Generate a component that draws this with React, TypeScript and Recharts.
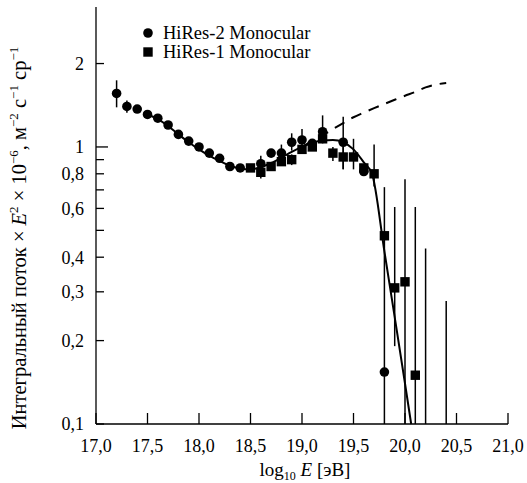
import React from "react";
import {
  ComposedChart,
  Line,
  Scatter,
  ErrorBar,
  XAxis,
  YAxis,
} from "recharts";

// HiRes-2 Monocular (circles)
const hr2X = [17.2, 17.3, 17.4, 17.5, 17.6, 17.7, 17.8, 17.9, 18.0, 18.1, 18.2, 18.3, 18.4, 18.6, 18.7, 18.8, 18.9, 19.0, 19.1, 19.2, 19.4, 19.6, 19.8];
const hr2Y = [1.56, 1.4, 1.37, 1.31, 1.27, 1.2, 1.11, 1.05, 1.0, 0.95, 0.91, 0.85, 0.84, 0.87, 0.95, 0.95, 1.04, 1.06, 1.03, 1.135, 1.04, 0.815, 0.154];
const hr2Lo = [1.39, 1.33, 1.37, 1.31, 1.27, 1.2, 1.11, 1.05, 1.0, 0.95, 0.91, 0.85, 0.84, 0.82, 0.95, 0.9, 0.97, 0.98, 1.03, 1.03, 0.83, 0.815, 0.154];
const hr2Hi = [1.74, 1.47, 1.37, 1.31, 1.27, 1.2, 1.11, 1.05, 1.0, 0.95, 0.91, 0.85, 0.84, 0.93, 0.95, 1.02, 1.12, 1.16, 1.03, 1.3, 1.285, 0.815, 0.154];

// HiRes-1 Monocular (squares)
const hr1X = [18.5, 18.6, 18.7, 18.8, 18.9, 19.0, 19.1, 19.2, 19.3, 19.4, 19.5, 19.6, 19.7, 19.8, 19.9, 20.0, 20.1];
const hr1Y = [0.84, 0.81, 0.85, 0.885, 0.9, 0.98, 1.0, 1.07, 0.95, 0.92, 0.92, 0.84, 0.8, 0.478, 0.31, 0.326, 0.15];
const hr1Lo = [0.84, 0.77, 0.85, 0.885, 0.86, 0.98, 1.0, 1.07, 0.89, 0.83, 0.83, 0.84, 0.72, 0.1, 0.191, 0.1, 0.1];
const hr1Hi = [0.84, 0.86, 0.85, 0.885, 0.94, 0.98, 1.0, 1.07, 1.0, 1.0, 1.07, 0.84, 1.02, 0.716, 0.607, 0.765, 0.607];

// error bars without a point
const limX = [20.2, 20.4];
const limHi = [0.43, 0.278];

// fit (solid) and extrapolation (dashed)
const fitX = [17.5, 17.6, 17.7, 17.8, 17.9, 18.0, 18.1, 18.2, 18.3, 18.4, 18.5, 18.6, 18.7, 18.8, 18.9, 19.0, 19.1, 19.2, 19.3, 19.4, 19.5, 19.6, 19.68, 19.8, 19.9, 20.0, 20.06];
const fitY = [1.31, 1.26, 1.19, 1.11, 1.04, 0.98, 0.93, 0.89, 0.855, 0.835, 0.83, 0.845, 0.875, 0.915, 0.96, 1.0, 1.035, 1.055, 1.06, 1.04, 0.98, 0.88, 0.8, 0.42, 0.243, 0.14, 0.1];
const dashX = [19.0, 19.1, 19.2, 19.3, 19.4, 19.5, 19.6, 19.7, 19.8, 19.9, 20.0, 20.1, 20.2, 20.3, 20.4];
const dashY = [1.0, 1.05, 1.1, 1.16, 1.22, 1.28, 1.33, 1.38, 1.43, 1.48, 1.53, 1.58, 1.64, 1.68, 1.7];

const xTicks = [17, 17.5, 18, 18.5, 19, 19.5, 20, 20.5, 21];
const yTicks = [0.1, 0.2, 0.3, 0.4, 0.5, 0.6, 0.7, 0.8, 0.9, 1, 2];
const yLabeled = [0.1, 0.2, 0.3, 0.4, 0.6, 0.8, 1, 2];

const FONT = '"Liberation Serif", "Times New Roman", Tinos, "DejaVu Serif", serif';
const comma = (v: number, digits: number) => v.toFixed(digits).replace(".", ",");

const pts = (xs: number[], ys: number[], lo?: number[], hi?: number[]) =>
  xs.map((x, i) => ({
    x,
    y: ys[i],
    err: lo && hi ? [ys[i] - lo[i], hi[i] - ys[i]] : [0, 0],
  }));

const hr2Data = pts(hr2X, hr2Y, hr2Lo, hr2Hi);
const hr1Data = pts(hr1X, hr1Y, hr1Lo, hr1Hi);
const limData = limX.map((x, i) => ({ x, y: 0.1, err: [0, limHi[i] - 0.1] }));
const fitData = fitX.map((x, i) => ({ x, y: fitY[i] }));
const dashData = dashX.map((x, i) => ({ x, y: dashY[i] }));

const Dot = (p: any) => <circle cx={p.cx} cy={p.cy} r={4.8} fill="#000" />;
const Square = (p: any) => (
  <rect x={p.cx - 4.7} y={p.cy - 4.7} width={9.4} height={9.4} fill="#000" />
);
const Nothing = () => <g />;

const txt = { fontFamily: FONT };

const YTick = (p: any) => {
  const v = p.payload.value;
  const len = v === 1 ? 12 : 8;
  const label = yLabeled.includes(v) ? (v >= 1 ? String(v) : comma(v, 1)) : "";
  return (
    <g>
      <line x1={p.x} x2={p.x + len} y1={p.y} y2={p.y} stroke="#000" strokeWidth={1.3} />
      {label && (
        <text x={p.x - 12} y={p.y} dy="0.36em" textAnchor="end" style={txt} fontSize={18} fill="#000">
          {label}
        </text>
      )}
    </g>
  );
};

const XTick = (p: any) => (
  <g>
    <line x1={p.x} x2={p.x} y1={p.y} y2={p.y - 11} stroke="#000" strokeWidth={1.3} />
    <text x={p.x} y={p.y + 28} textAnchor="middle" style={txt} fontSize={18} fill="#000">
      {comma(p.payload.value, 1)}
    </text>
  </g>
);

export default function App() {
  return (
    <div style={{ position: "absolute", left: 0, top: 0, width: 527, height: 483, background: "#fff", fontFamily: FONT }}>
      <ComposedChart width={527} height={483} margin={{ top: 7, right: 19, left: 0, bottom: 0 }}>
        <XAxis
          dataKey="x"
          type="number"
          domain={[17, 21]}
          ticks={xTicks}
          interval={0}
          height={59}
          tickSize={0}
          tickMargin={0}
          tick={<XTick />}
          axisLine={{ stroke: "#000", strokeWidth: 1.3 }}
        />
        <XAxis
          xAxisId="top"
          orientation="top"
          type="number"
          domain={[17, 21]}
          height={0}
          tick={false}
          tickLine={false}
          axisLine={{ stroke: "#000", strokeWidth: 1.3 }}
        />
        <YAxis
          dataKey="y"
          type="number"
          scale="log"
          domain={[0.1, 3.2]}
          ticks={yTicks}
          interval={0}
          width={96}
          tickSize={0}
          tickMargin={0}
          tick={<YTick />}
          axisLine={{ stroke: "#000", strokeWidth: 1.3 }}
        />
        <YAxis
          yAxisId="right"
          orientation="right"
          type="number"
          scale="log"
          domain={[0.1, 3.2]}
          width={0}
          tick={false}
          tickLine={false}
          axisLine={{ stroke: "#000", strokeWidth: 1.3 }}
        />
        <Line
          data={dashData}
          dataKey="y"
          type="monotone"
          stroke="#000"
          strokeWidth={2}
          strokeDasharray="11 8"
          dot={false}
          isAnimationActive={false}
        />
        <Line
          data={fitData}
          dataKey="y"
          type="monotone"
          stroke="#000"
          strokeWidth={2}
          dot={false}
          isAnimationActive={false}
        />
        <Scatter data={limData} dataKey="y" shape={<Nothing />} isAnimationActive={false}>
          <ErrorBar dataKey="err" direction="y" width={0} stroke="#000" strokeWidth={1.5} />
        </Scatter>
        <Scatter data={hr1Data} dataKey="y" shape={<Square />} isAnimationActive={false}>
          <ErrorBar dataKey="err" direction="y" width={0} stroke="#000" strokeWidth={1.5} />
        </Scatter>
        <Scatter data={hr2Data} dataKey="y" shape={<Dot />} isAnimationActive={false}>
          <ErrorBar dataKey="err" direction="y" width={0} stroke="#000" strokeWidth={1.5} />
        </Scatter>
      </ComposedChart>
      <svg
        width={527}
        height={483}
        style={{ position: "absolute", left: 0, top: 0, pointerEvents: "none", fontFamily: FONT }}
        fill="#000"
      >
        <circle cx={148} cy={33} r={4.8} />
        <text x={163} y={39} fontSize={18.5}>HiRes-2 Monocular</text>
        <rect x={143.3} y={47.3} width={9.4} height={9.4} />
        <text x={163} y={58} fontSize={18.5}>HiRes-1 Monocular</text>
        <text x={305} y={476} textAnchor="middle" fontSize={19}>
          log<tspan fontSize={12} dy={4}>10</tspan>
          <tspan dy={-4}> </tspan>
          <tspan fontStyle="italic">E</tspan> [эВ]
        </text>
        <text transform="translate(26,238) rotate(-90)" textAnchor="middle" fontSize={20.5}>
          Интегральный поток ×{" "}
          <tspan fontStyle="italic">E</tspan>
          <tspan fontSize={13} dy={-8}>2</tspan>
          <tspan dy={8}> × 10</tspan>
          <tspan fontSize={13} dy={-8}>−6</tspan>
          <tspan dy={8}>, м</tspan>
          <tspan fontSize={13} dy={-8}>−2</tspan>
          <tspan dy={8}> с</tspan>
          <tspan fontSize={13} dy={-8}>−1</tspan>
          <tspan dy={8}> ср</tspan>
          <tspan fontSize={13} dy={-8}>−1</tspan>
        </text>
      </svg>
    </div>
  );
}
